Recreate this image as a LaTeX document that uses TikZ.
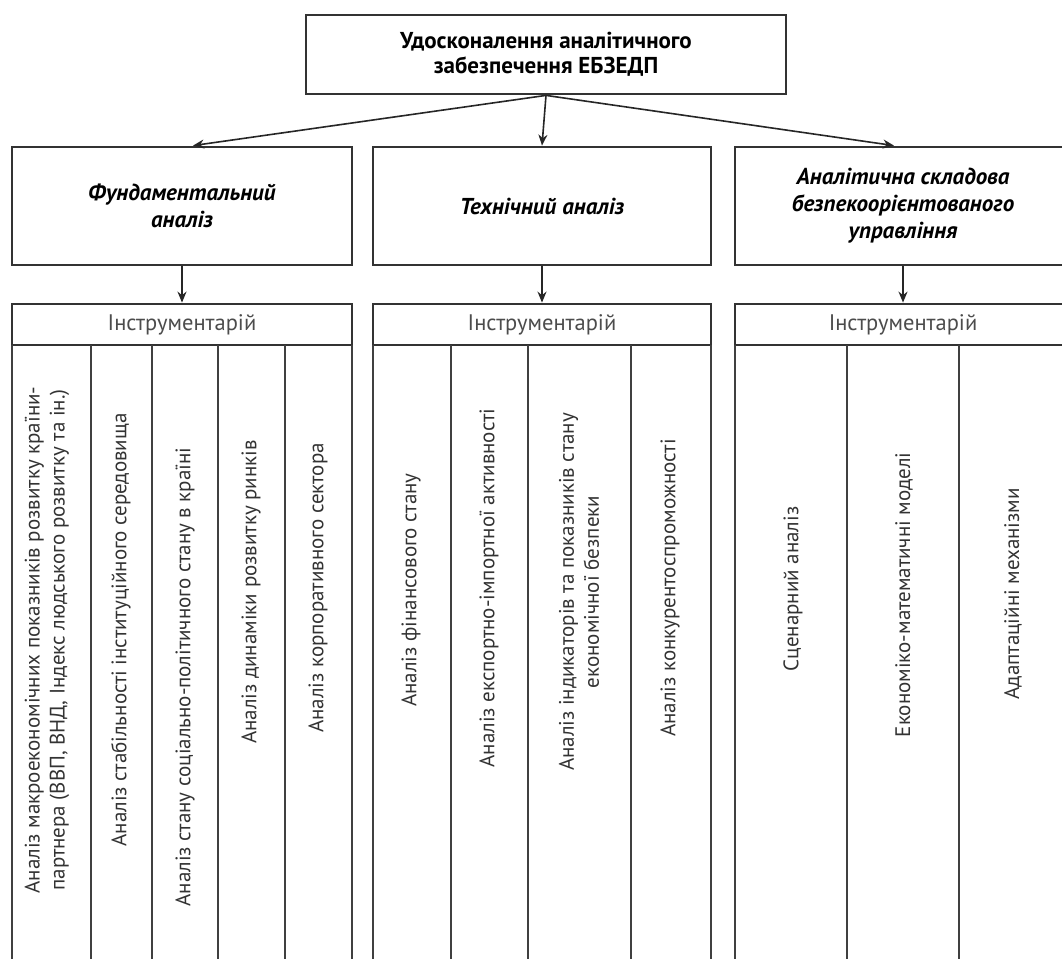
\documentclass[tikz,border=0pt]{standalone}
\usepackage{fontspec}
\setmainfont{PT Sans}
\usetikzlibrary{arrows.meta}

\begin{document}
\begin{tikzpicture}[
  x=1pt,
  y=-1pt,
  mainbox/.style={
    draw=black!80,
    line width=2.8pt,
    minimum width=480,
    minimum height=79,
    inner sep=0pt,
    align=center,
    font=\bfseries\fontsize{23}{25}\selectfont
  },
  branchbox/.style={
    draw=black!80,
    line width=2.8pt,
    minimum height=118,
    inner sep=0pt,
    align=center,
    font=\bfseries\itshape\fontsize{23}{27}\selectfont
  },
  toolhead/.style={
    draw=black!80,
    line width=2.8pt,
    minimum height=41,
    inner sep=0pt,
    text=black!70,
    font=\fontsize{22.5}{24}\selectfont
  },
  colline/.style={
    draw=black!75,
    line width=2.8pt
  },
  coltext/.style={
    rotate=90,
    align=center,
    inner sep=1pt,
    text=black!80,
    font=\fontsize{21}{25}\selectfont
  },
  linkarrow/.style={
    draw=black!85,
    line width=1.6pt,
    -{Stealth[length=11pt,width=9pt]}
  }
]

\useasboundingbox (0,0) rectangle (1062,958);
\fill[white] (0,0) rectangle (1062,958);
\clip (0,0) rectangle (1062,958);

% top level
\node[mainbox] (top) at (546,54.5) {Удосконалення аналітичного\\забезпечення ЕБЗЕДП};

% three directions
\node[branchbox, minimum width=340] (fund) at (182,206) {Фундаментальний\\аналіз};
\node[branchbox, minimum width=338] (tech) at (542,206) {Технічний аналіз};
\node[branchbox, minimum width=336] (anal) at (903,206) {Аналітична складова\\безпекоорієнтованого\\управління};

\draw[linkarrow] (top.south) -- ([xshift=11pt]fund.north);
\draw[linkarrow] (top.south) -- (tech.north);
\draw[linkarrow] (top.south) -- ([xshift=-9pt]anal.north);

% tool headers
\node[toolhead, minimum width=340] (tools1) at (182,324.5) {Інструментарій};
\node[toolhead, minimum width=338] (tools2) at (542,324.5) {Інструментарій};
\node[toolhead, minimum width=336] (tools3) at (903,324.5) {Інструментарій};

\draw[linkarrow] (fund.south) -- (tools1.north);
\draw[linkarrow] (tech.south) -- (tools2.north);
\draw[linkarrow] (anal.south) -- (tools3.north);

% column lines
\foreach \dx in {12,91,152,218,285,352, 373,451,528,631,711, 735,847,959,1071}
  \draw[colline] (\dx,345) -- (\dx,1000);

% column texts
\foreach \cx/\cy/\ctext [count=\c] in {
  47/640/{Аналіз макроекономічних показників розвитку країни-\\партнера (ВВП, ВНД, Індекс людського розвитку та ін.)},
  121/630/{Аналіз стабільності інституційного середовища},
  185/677/{Аналіз стану соціально-політичного стану в країні},
  251/592/{Аналіз динаміки розвитку ринків},
  318/588/{Аналіз корпоративного сектора},
  411/590/{Аналіз фінансового стану},
  489/588/{Аналіз експортно-імпортної активності},
  579/592/{Аналіз індикаторів та показників стану\\економічної безпеки},
  670/588/{Аналіз конкурентоспроможності},
  793/589/{Сценарний аналіз},
  904/595/{Економіко-математичні моделі},
  1013/591/{Адаптаційні механізми}
} {
  \node[coltext] (col\c) at (\cx,\cy) {\ctext};
}

\end{tikzpicture}
\end{document}
